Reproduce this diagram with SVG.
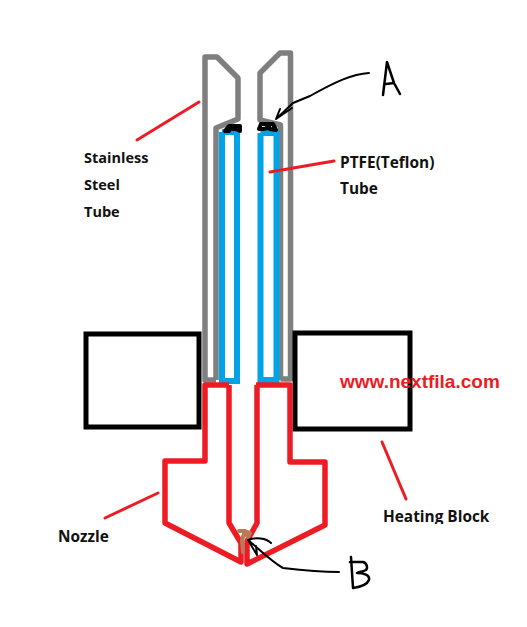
<svg xmlns="http://www.w3.org/2000/svg" width="527" height="627" viewBox="0 0 527 627">
<style>
.g{fill:none;stroke:#7f7f7f;stroke-width:5.500;stroke-linejoin:round}
.b{fill:none;stroke:#00a2e8;stroke-width:6}
.r{fill:none;stroke:#ed1c24;stroke-width:5.500;stroke-linejoin:round}
.k{fill:none;stroke:#000;stroke-width:5}
.p{fill:none;stroke:#000;stroke-width:2;stroke-linecap:round;stroke-linejoin:round}
.h{stroke-width:2.500}
.m{fill:none;stroke:#000;stroke-width:4;stroke-linecap:round;stroke-linejoin:round}
.l{fill:none;stroke:#ed1c24;stroke-width:3;stroke-linecap:round}
.o{fill:none;stroke:#b97a57;stroke-width:4;stroke-linecap:round;stroke-linejoin:round}
.t{font-family:"Open Sans","Liberation Sans",sans-serif;font-weight:700;font-size:15.400px;fill:#111}
.s{font-size:14.500px}
</style>
<defs><clipPath id="cut"><rect x="370" y="500" width="130" height="24"/></clipPath></defs>
<rect width="527" height="627" fill="#fff"/>
<g id="steel-tube">
<path class="g" d="M216 380V128L238 119V78L217 57H205V380H216"/>
<path class="g" d="M280.500 380V125L260 120V73L280 53H290.500V379H280.500"/>
</g>
<g id="ptfe-tube">
<path class="b" d="M222 132V381H237V132H222"/>
<path class="b" d="M260.500 133V380H276.500V133H260.500"/>
</g>
<g id="heating-block">
<rect class="k" x="86" y="334" width="113" height="93"/>
<rect class="k" x="295" y="333" width="115" height="96"/>
</g>
<g id="nozzle">
<path class="r" d="M229 385H205V461H165V523L241 562V543L229 523V385"/>
<path class="r" d="M256 385H290V462H325V525L247 564V541L257 523V385"/>
</g>
<g id="gap-a">
<path class="m" d="M225 131L229 126H232L229 131H225M233 126H240V131L236 129H233V126"/>
<path class="m" d="M259 129L261 124H266L269 128L263 129H259M268 124H273L276 130L270 129L268 124"/>
</g>
<g id="gap-b">
<path class="o" d="M239 531H245L242 540L243 552M245 531L250 533L248 537L245 532"/>
</g>
<g id="connectors">
<path class="l" d="M137 140L199 102"/>
<path class="l" d="M270 172L334 161"/>
<path class="l" d="M382 442L406 499"/>
<path class="l" d="M105 518L158 493"/>
<path class="p" d="M369 73C352 74 335 82 310 96L293 103L276 119L280 109M276 119L292 108"/>
<path class="p" d="M339 572C322 572 300 570 283 568C272 562 258 548 248 540C256 537 266 538 271 543M248 540L257 555L256 546"/>
</g>
<g id="label-a"><path class="p h" d="M383 95L387 62L394 83L400 94M386 84L394 83"/></g>
<g id="label-b"><path class="p h" d="M351 557L353 588M350 562H363C367 563 368 568 366 570C362 572 359 572 357 573C364 573 370 575 369 580C367 585 360 587 353 588"/></g>
<g id="labels">
<text class="t s" x="84" y="163">Stainless</text>
<text class="t s" x="84" y="190">Steel</text>
<text class="t s" x="84" y="217">Tube</text>
<text class="t" x="340" y="168">PTFE(Teflon)</text>
<text class="t" x="340" y="194">Tube</text>
<text class="t" x="383" y="522" clip-path="url(#cut)">Heating Block</text>
<text class="t" x="58" y="542">Nozzle</text>
<text x="340" y="388" font-family="'Liberation Sans',sans-serif" font-weight="700" font-size="19" fill="#ed1c24">www.nextfila.com</text>
</g>
</svg>
